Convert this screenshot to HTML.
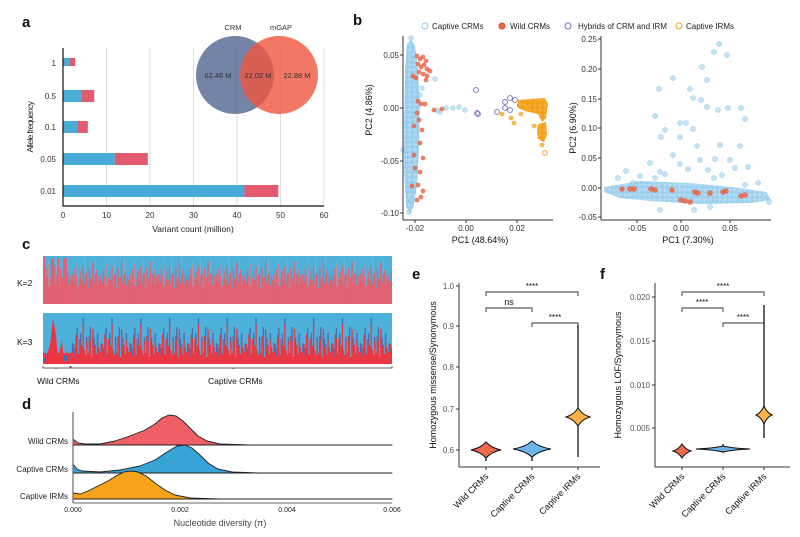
<!DOCTYPE html>
<html><head><meta charset="utf-8"><style>
html,body{margin:0;padding:0;background:#fff;width:800px;height:537px;overflow:hidden}
svg{display:block;font-family:"Liberation Sans",Arial,sans-serif}
.b{fill:#9ccfee;stroke:#6fbbe3;stroke-width:.6;opacity:.6}
.r{fill:#e8603f;opacity:.8}
.h{fill:none;stroke:#7366b3;stroke-width:.9}
.o{fill:#f7a520;opacity:.8}
</style></head><body>
<svg width="800" height="537" viewBox="0 0 800 537" xmlns="http://www.w3.org/2000/svg">
<defs>
<pattern id="dots" x="0" y="0" width="5" height="5" patternUnits="userSpaceOnUse">
<rect width="5" height="5" fill="#b3dbf2"/>
<circle cx="1.5" cy="1.5" r="2" fill="#92caec" stroke="#6fbbe3" stroke-width=".5"/>
<circle cx="4" cy="4" r="2" fill="#a0d2ef" stroke="#6fbbe3" stroke-width=".5"/>
</pattern>
<pattern id="odots" x="0" y="0" width="5" height="5" patternUnits="userSpaceOnUse">
<rect width="5" height="5" fill="#f8b03a"/>
<circle cx="2.5" cy="2.5" r="2" fill="#f5a01a" stroke="#ef9a10" stroke-width=".5"/>
</pattern>
<pattern id="k2" x="43" y="256" width="28.8" height="48" patternUnits="userSpaceOnUse">
<rect width="28.8" height="48" fill="#4db1dc"/>
<g fill="#e5606f">
<rect x="0" y="18" width="1.3" height="30"/><rect x="1.2" y="26" width="1.3" height="22"/><rect x="2.4" y="13" width="1.3" height="35"/><rect x="3.6" y="20" width="1.3" height="28"/><rect x="4.8" y="8" width="1.3" height="40"/><rect x="6" y="30" width="1.3" height="18"/><rect x="7.2" y="22" width="1.3" height="26"/><rect x="8.4" y="15" width="1.3" height="33"/><rect x="9.6" y="24" width="1.3" height="24"/><rect x="10.8" y="10" width="1.3" height="38"/><rect x="12" y="28" width="1.3" height="20"/><rect x="13.2" y="19" width="1.3" height="29"/><rect x="14.4" y="17" width="1.3" height="31"/><rect x="15.6" y="32" width="1.3" height="16"/><rect x="16.8" y="12" width="1.3" height="36"/><rect x="18" y="23" width="1.3" height="25"/><rect x="19.2" y="21" width="1.3" height="27"/><rect x="20.4" y="6" width="1.3" height="42"/><rect x="21.6" y="27" width="1.3" height="21"/><rect x="22.8" y="18" width="1.3" height="30"/><rect x="24" y="14" width="1.3" height="34"/><rect x="25.2" y="29" width="1.3" height="19"/><rect x="26.4" y="20" width="1.3" height="28"/><rect x="27.6" y="24" width="1.3" height="24"/>
</g>
<g fill="#a7b4c4" opacity=".6"><rect x="5" y="5" width=".8" height="25"/><rect x="13" y="3" width=".8" height="16"/><rect x="23.4" y="2" width=".8" height="16"/></g>
</pattern>
<pattern id="k3" x="43" y="313" width="28.8" height="51" patternUnits="userSpaceOnUse">
<rect width="28.8" height="51" fill="#4db1dc"/>
<g fill="#3d6fb5">
<rect x="0" y="30" width="1.3" height="10"/><rect x="2.4" y="35" width="1.3" height="8"/><rect x="4.8" y="15" width="1.3" height="10"/><rect x="8.4" y="20" width="1.3" height="12"/><rect x="10.8" y="5" width="1.3" height="9"/><rect x="14.4" y="24" width="1.3" height="10"/><rect x="18" y="14" width="1.3" height="14"/><rect x="21.6" y="25" width="1.3" height="10"/><rect x="25.2" y="20" width="1.3" height="12"/>
</g>
<g fill="#ee3440">
<rect x="0" y="39" width="1.3" height="12"/><rect x="1.2" y="31" width="1.3" height="20"/><rect x="2.4" y="43" width="1.3" height="8"/><rect x="3.6" y="21" width="1.3" height="30"/><rect x="4.8" y="25" width="1.3" height="26"/><rect x="6" y="41" width="1.3" height="10"/><rect x="7.2" y="26" width="1.3" height="25"/><rect x="8.4" y="32" width="1.3" height="19"/><rect x="9.6" y="33" width="1.3" height="18"/><rect x="10.8" y="11" width="1.3" height="40"/><rect x="12" y="37" width="1.3" height="14"/><rect x="13.2" y="42" width="1.3" height="9"/><rect x="14.4" y="29" width="1.3" height="22"/><rect x="15.6" y="40" width="1.3" height="11"/><rect x="16.8" y="23" width="1.3" height="28"/><rect x="18" y="28" width="1.3" height="23"/><rect x="19.2" y="44" width="1.3" height="7"/><rect x="20.4" y="16" width="1.3" height="35"/><rect x="21.6" y="34" width="1.3" height="17"/><rect x="22.8" y="32" width="1.3" height="19"/><rect x="24" y="41" width="1.3" height="10"/><rect x="25.2" y="27" width="1.3" height="24"/><rect x="26.4" y="34" width="1.3" height="17"/><rect x="27.6" y="39" width="1.3" height="12"/>
</g>
</pattern>
</defs>
<rect width="800" height="537" fill="#fff"/>
<g font-weight="bold" font-size="15" fill="#111">
<text x="22" y="27">a</text><text x="353" y="25">b</text><text x="22" y="249">c</text><text x="22" y="409">d</text><text x="412" y="279">e</text><text x="600" y="279">f</text>
</g>
<!-- panel a -->
<g font-size="8" fill="#333">
<g stroke="#ddd" stroke-width="1">
<line x1="106.5" y1="48" x2="106.5" y2="206"/><line x1="150" y1="48" x2="150" y2="206"/><line x1="193.5" y1="48" x2="193.5" y2="206"/><line x1="237" y1="48" x2="237" y2="206"/><line x1="280.5" y1="48" x2="280.5" y2="206"/><line x1="324" y1="48" x2="324" y2="206"/>
</g>
<g fill="#48acd6"><rect x="63" y="58" width="7" height="8"/><rect x="63" y="90" width="18.3" height="12"/><rect x="63" y="121" width="14.4" height="12"/><rect x="63" y="153" width="51.8" height="12"/><rect x="63" y="185" width="181.4" height="12"/></g>
<g fill="#e25a6e"><rect x="70" y="58" width="5.2" height="8"/><rect x="81.3" y="90" width="13" height="12"/><rect x="77.4" y="121" width="10.4" height="12"/><rect x="114.8" y="153" width="33" height="12"/><rect x="244.4" y="185" width="33.9" height="12"/></g>
<circle cx="235" cy="75" r="39" fill="#5b6f97" opacity="0.85"/>
<circle cx="279" cy="75" r="39" fill="#f0553f" opacity="0.8"/>
<text x="233" y="30" text-anchor="middle" font-size="7.5">CRM</text>
<text x="281" y="30" text-anchor="middle" font-size="7.5">mGAP</text>
<text x="218" y="78" text-anchor="middle" font-size="7.5">62.46 M</text>
<text x="258" y="78" text-anchor="middle" font-size="7.5">22.02 M</text>
<text x="297" y="78" text-anchor="middle" font-size="7.5">22.88 M</text>
<line x1="63" y1="48" x2="63" y2="206.5" stroke="#111" stroke-width="1.2"/>
<line x1="63" y1="206" x2="324" y2="206" stroke="#111" stroke-width="1.2"/>
<g text-anchor="middle"><text x="63" y="218">0</text><text x="106.5" y="218">10</text><text x="150" y="218">20</text><text x="193.5" y="218">30</text><text x="237" y="218">40</text><text x="280.5" y="218">50</text><text x="324" y="218">60</text></g>
<g text-anchor="end"><text x="56" y="66">1</text><text x="56" y="99">0.5</text><text x="56" y="130">0.1</text><text x="56" y="162">0.05</text><text x="56" y="194">0.01</text></g>
<text x="193" y="232" text-anchor="middle" font-size="8.5" fill="#222">Variant count (million)</text>
<text transform="translate(33,127) rotate(-90)" text-anchor="middle" font-size="8.5" fill="#222" letter-spacing="-0.6">Allele frequency</text>
</g>
<!-- panel b legend -->
<g font-size="8" fill="#222">
<circle cx="425" cy="26" r="3" fill="none" stroke="#8fc9ea"/><text x="432" y="29">Captive CRMs</text>
<circle cx="502" cy="26" r="3" fill="#e8684a" stroke="#d94a2a"/><text x="510" y="29">Wild CRMs</text>
<circle cx="568" cy="26" r="3" fill="none" stroke="#7c72b8"/><text x="578" y="29">Hybrids of CRM and IRM</text>
<circle cx="679" cy="26" r="3" fill="none" stroke="#f5a623"/><text x="686" y="29">Captive IRMs</text>
</g>
<!-- left PCA -->
<path d="M407 44 L411 40 L415 45 L418 70 L420 110 L419 150 L417 185 L414 205 L410 214 L406 206 L404 170 L404 120 L405 70 Z" fill="url(#dots)" opacity=".9"/>
<g>
<circle class="b" cx="411" cy="38" r="2.4"/><circle class="b" cx="409" cy="212" r="2.4"/><circle class="b" cx="411" cy="201" r="2.4"/><circle class="b" cx="413" cy="190" r="2.4"/><circle class="b" cx="420" cy="95" r="2.4"/><circle class="b" cx="422" cy="88" r="2.4"/><circle class="b" cx="403" cy="150" r="2.4"/>
<circle class="b" cx="435" cy="79" r="2.4"/><circle class="b" cx="437" cy="110" r="2.4"/><circle class="b" cx="440" cy="112" r="2.4"/><circle class="b" cx="446" cy="108" r="2.4"/><circle class="b" cx="453" cy="108" r="2.4"/><circle class="b" cx="459" cy="107" r="2.4"/><circle class="b" cx="465" cy="110" r="2.4"/>
<circle class="r" cx="417" cy="56" r="2.4"/><circle class="r" cx="420" cy="59" r="2.4"/><circle class="r" cx="423" cy="57" r="2.4"/><circle class="r" cx="426" cy="61" r="2.4"/><circle class="r" cx="418" cy="64" r="2.4"/><circle class="r" cx="421" cy="67" r="2.4"/><circle class="r" cx="424" cy="65" r="2.4"/><circle class="r" cx="427" cy="69" r="2.4"/><circle class="r" cx="419" cy="72" r="2.4"/><circle class="r" cx="423" cy="74" r="2.4"/><circle class="r" cx="427" cy="76" r="2.4"/><circle class="r" cx="413" cy="76" r="2.4"/><circle class="r" cx="416" cy="78" r="2.4"/><circle class="r" cx="430" cy="71" r="2.4"/><circle class="r" cx="426" cy="80" r="2.4"/>
<circle class="r" cx="418" cy="101" r="2.4"/><circle class="r" cx="421" cy="104" r="2.4"/><circle class="r" cx="425" cy="104" r="2.4"/><circle class="r" cx="434" cy="110" r="2.4"/><circle class="r" cx="442" cy="109" r="2.4"/><circle class="r" cx="417" cy="113" r="2.4"/><circle class="r" cx="419" cy="120" r="2.4"/><circle class="r" cx="422" cy="130" r="2.4"/><circle class="r" cx="414" cy="126" r="2.4"/><circle class="r" cx="420" cy="143" r="2.4"/><circle class="r" cx="414" cy="155" r="2.4"/><circle class="r" cx="423" cy="158" r="2.4"/><circle class="r" cx="415" cy="168" r="2.4"/><circle class="r" cx="420" cy="172" r="2.4"/><circle class="r" cx="418" cy="185" r="2.4"/><circle class="r" cx="423" cy="191" r="2.4"/><circle class="r" cx="421" cy="197" r="2.4"/><circle class="r" cx="417" cy="200" r="2.4"/><circle class="r" cx="412" cy="186" r="2.4"/>
<circle class="h" cx="476" cy="90" r="2.4"/><circle class="h" cx="477" cy="113" r="2.4"/><circle class="h" cx="478" cy="114" r="2.4"/><circle class="h" cx="497" cy="112" r="2.4"/><circle class="h" cx="505" cy="102" r="2.4"/><circle class="h" cx="505" cy="108" r="2.4"/><circle class="h" cx="510" cy="110" r="2.4"/><circle class="h" cx="515" cy="100" r="2.4"/><circle class="h" cx="520" cy="105" r="2.4"/><circle class="h" cx="510" cy="98" r="2.4"/>
</g>
<path d="M518 100 L530 99 L545 98 L548 104 L546 118 L542 122 L538 114 L525 111 L518 108 Z" fill="url(#odots)"/>
<path d="M538 124 L546 122 L547 135 L544 142 L538 139 L537 130 Z" fill="url(#odots)"/>
<g><circle class="o" cx="502" cy="114" r="2.4"/><circle class="o" cx="511" cy="118" r="2.4"/><circle class="o" cx="521" cy="114" r="2.4"/><circle class="o" cx="514" cy="123" r="2.4"/><circle class="o" cx="534" cy="126" r="2.4"/><circle class="o" cx="542" cy="145" r="2.4"/><circle class="o" cx="527" cy="109" r="2.4"/><circle cx="545" cy="153" r="2.4" fill="none" stroke="#f5a623"/></g>
<!-- right PCA -->
<path d="M604 187 L640 181 L690 183 L740 188 L766 192 L771 200 L750 203 L700 204 L650 201 L620 198 L604 192 Z" fill="url(#dots)" opacity=".85"/>
<g>
<circle class="b" cx="719" cy="44" r="2.6"/><circle class="b" cx="714" cy="52" r="2.6"/><circle class="b" cx="727" cy="55" r="2.6"/><circle class="b" cx="702" cy="67" r="2.6"/><circle class="b" cx="673" cy="78" r="2.6"/><circle class="b" cx="707" cy="80" r="2.6"/><circle class="b" cx="690" cy="89" r="2.6"/><circle class="b" cx="659" cy="89" r="2.6"/><circle class="b" cx="655" cy="116" r="2.6"/><circle class="b" cx="701" cy="100" r="2.6"/><circle class="b" cx="680" cy="123" r="2.6"/><circle class="b" cx="707" cy="107" r="2.6"/><circle class="b" cx="728" cy="108" r="2.6"/><circle class="b" cx="718" cy="110" r="2.6"/><circle class="b" cx="741" cy="108" r="2.6"/><circle class="b" cx="745" cy="119" r="2.6"/><circle class="b" cx="693" cy="98" r="2.6"/><circle class="b" cx="686" cy="123" r="2.6"/><circle class="b" cx="665" cy="130" r="2.6"/><circle class="b" cx="661" cy="137" r="2.6"/><circle class="b" cx="693" cy="129" r="2.6"/><circle class="b" cx="673" cy="155" r="2.6"/><circle class="b" cx="697" cy="146" r="2.6"/><circle class="b" cx="680" cy="137" r="2.6"/><circle class="b" cx="715" cy="159" r="2.6"/><circle class="b" cx="720" cy="145" r="2.6"/><circle class="b" cx="714" cy="178" r="2.6"/><circle class="b" cx="735" cy="168" r="2.6"/><circle class="b" cx="740" cy="146" r="2.6"/><circle class="b" cx="680" cy="164" r="2.6"/><circle class="b" cx="688" cy="169" r="2.6"/><circle class="b" cx="660" cy="172" r="2.6"/><circle class="b" cx="650" cy="163" r="2.6"/><circle class="b" cx="633" cy="183" r="2.6"/><circle class="b" cx="640" cy="176" r="2.6"/><circle class="b" cx="626" cy="171" r="2.6"/><circle class="b" cx="655" cy="178" r="2.6"/><circle class="b" cx="665" cy="174" r="2.6"/><circle class="b" cx="708" cy="170" r="2.6"/><circle class="b" cx="722" cy="175" r="2.6"/><circle class="b" cx="730" cy="160" r="2.6"/><circle class="b" cx="748" cy="167" r="2.6"/><circle class="b" cx="618" cy="178" r="2.6"/><circle class="b" cx="700" cy="160" r="2.6"/><circle class="b" cx="745" cy="185" r="2.6"/><circle class="b" cx="758" cy="183" r="2.6"/><circle class="b" cx="769" cy="202" r="2.6"/><circle class="b" cx="660" cy="210" r="2.6"/><circle class="b" cx="694" cy="210" r="2.6"/><circle class="b" cx="710" cy="207" r="2.6"/>
<circle class="r" cx="622" cy="189" r="2.8"/><circle class="r" cx="630" cy="189" r="2.8"/><circle class="r" cx="634" cy="189" r="2.8"/><circle class="r" cx="651" cy="189" r="2.8"/><circle class="r" cx="655" cy="190" r="2.8"/><circle class="r" cx="672" cy="190" r="2.8"/><circle class="r" cx="681" cy="200" r="2.8"/><circle class="r" cx="685" cy="201" r="2.8"/><circle class="r" cx="690" cy="202" r="2.8"/><circle class="r" cx="695" cy="192" r="2.8"/><circle class="r" cx="698" cy="193" r="2.8"/><circle class="r" cx="710" cy="193" r="2.8"/><circle class="r" cx="723" cy="192" r="2.8"/><circle class="r" cx="726" cy="191" r="2.8"/><circle class="r" cx="741" cy="196" r="2.8"/><circle class="r" cx="745" cy="195" r="2.8"/>
</g>
<g font-size="8" fill="#333">
<line x1="403" y1="36" x2="403" y2="220" stroke="#333"/><line x1="403" y1="220" x2="553" y2="220" stroke="#333"/>
<g text-anchor="end"><text x="399" y="58">0.05</text><text x="399" y="111">0.00</text><text x="399" y="164">-0.05</text><text x="399" y="216">-0.10</text></g>
<g stroke="#333"><line x1="400" y1="55" x2="403" y2="55"/><line x1="400" y1="108" x2="403" y2="108"/><line x1="400" y1="161" x2="403" y2="161"/><line x1="400" y1="213" x2="403" y2="213"/>
<line x1="415" y1="220" x2="415" y2="223"/><line x1="466" y1="220" x2="466" y2="223"/><line x1="517" y1="220" x2="517" y2="223"/>
<line x1="598" y1="39" x2="601" y2="39"/><line x1="598" y1="69" x2="601" y2="69"/><line x1="598" y1="99" x2="601" y2="99"/><line x1="598" y1="128" x2="601" y2="128"/><line x1="598" y1="158" x2="601" y2="158"/><line x1="598" y1="188" x2="601" y2="188"/><line x1="598" y1="217" x2="601" y2="217"/>
<line x1="637" y1="220" x2="637" y2="223"/><line x1="681" y1="220" x2="681" y2="223"/><line x1="730" y1="220" x2="730" y2="223"/></g>
<g text-anchor="middle"><text x="415" y="231">-0.02</text><text x="466" y="231">0.00</text><text x="517" y="231">0.02</text></g>
<text x="480" y="243" text-anchor="middle" font-size="9" fill="#111">PC1 (48.64%)</text>
<text transform="translate(372,110) rotate(-90)" text-anchor="middle" font-size="9" fill="#111">PC2 (4.86%)</text>
<line x1="601" y1="36" x2="601" y2="220" stroke="#333"/><line x1="601" y1="220" x2="771" y2="220" stroke="#333"/>
<g text-anchor="end"><text x="597" y="42">0.25</text><text x="597" y="72">0.20</text><text x="597" y="102">0.15</text><text x="597" y="131">0.10</text><text x="597" y="161">0.05</text><text x="597" y="191">0.00</text><text x="597" y="220">-0.05</text></g>
<g text-anchor="middle"><text x="637" y="231">-0.05</text><text x="681" y="231">0.00</text><text x="730" y="231">0.05</text></g>
<text x="688" y="243" text-anchor="middle" font-size="9" fill="#111">PC1 (7.30%)</text>
<text transform="translate(576,128) rotate(-90)" text-anchor="middle" font-size="9" fill="#111">PC2 (6.90%)</text>
</g>
<!-- panel c -->
<rect x="43" y="256" width="349" height="48" fill="url(#k2)"/>
<g fill="#e5606f"><rect x="43" y="257" width="2" height="47"/><rect x="51" y="258" width="3" height="46"/><rect x="57" y="258" width="2" height="46"/><rect x="63" y="258" width="4" height="46"/></g>
<rect x="43" y="313" width="349" height="51" fill="url(#k3)"/>
<g fill="#4db1dc"><rect x="43" y="313" width="28" height="40"/></g>
<g fill="#ee3440"><path d="M43 364 V352 L46 357 L50 345 L53 318 L56 335 L58 360 L62 340 L64 362 L67 350 L70 364 Z"/></g>
<g fill="#3d6fb5"><rect x="43" y="358" width="3" height="4"/><rect x="64" y="355" width="4" height="6"/></g>
<g font-size="8.5" fill="#111">
<text x="17" y="286">K=2</text><text x="17" y="345">K=3</text>
<path d="M43 366 v2 h27 v-2 M56 368 v1 M71 366 v2 h321 v-2 M233 368 v1" fill="none" stroke="#333" stroke-width="0.8"/>
<text x="37" y="384">Wild CRMs</text><text x="208" y="384">Captive CRMs</text>
</g>
<!-- panel d -->
<g stroke="#222" stroke-width=".9" stroke-linejoin="round">
<path d="M73 445 L73 439 L78 443 L85 444 L100 444 L115 441 L130 436 L145 430 L155 424 L162 418 L169 415 L176 416 L183 421 L190 428 L198 436 L207 441 L220 444 L250 445 L392 445 Z" fill="#ee5f66"/>
<path d="M73 473 L73 464 L77 469 L82 471 L100 472 L120 470 L140 466 L155 460 L167 452 L177 446 L185 445 L192 448 L200 455 L208 463 L218 469 L232 472 L260 473 L392 473 Z" fill="#36a4d6"/>
<path d="M73 499 L73 493 L80 494 L88 491 L98 486 L108 481 L116 476 L124 472 L131 471 L138 472 L146 476 L155 483 L165 490 L175 495 L190 498 L220 499 L392 499 Z" fill="#f6a31b"/>
</g>
<g font-size="8" fill="#222">
<text x="68" y="444" text-anchor="end">Wild CRMs</text><text x="68" y="472" text-anchor="end">Captive CRMs</text><text x="68" y="499" text-anchor="end">Captive IRMs</text>
<line x1="73" y1="412" x2="73" y2="503" stroke="#666" stroke-width="1.2"/>
<line x1="73" y1="503" x2="392" y2="503" stroke="#666"/>
<g text-anchor="middle" font-size="7"><text x="73" y="512">0.000</text><text x="180" y="512">0.002</text><text x="287" y="512">0.004</text><text x="392" y="512">0.006</text></g>
<text x="220" y="526" text-anchor="middle" font-size="9" fill="#444">Nucleotide diversity (π)</text>
</g>
<!-- panel e / f -->
<g font-size="8" fill="#555">
<g stroke="#333" fill="none">
<line x1="459" y1="283" x2="459" y2="467"/><line x1="459" y1="467" x2="600" y2="467"/>
<line x1="456" y1="286" x2="459" y2="286"/><line x1="456" y1="326" x2="459" y2="326"/><line x1="456" y1="367" x2="459" y2="367"/><line x1="456" y1="409" x2="459" y2="409"/><line x1="456" y1="450" x2="459" y2="450"/>
<line x1="486" y1="467" x2="486" y2="470"/><line x1="532" y1="467" x2="532" y2="470"/><line x1="578" y1="467" x2="578" y2="470"/>
<path d="M486 296 V292 H578 V296 M486 312 V308 H532 V312 M532 327 V323 H578 V327" stroke-width=".9"/>
<line x1="655" y1="283" x2="655" y2="467"/><line x1="655" y1="467" x2="790" y2="467"/>
<line x1="652" y1="297" x2="655" y2="297"/><line x1="652" y1="341" x2="655" y2="341"/><line x1="652" y1="385" x2="655" y2="385"/><line x1="652" y1="428" x2="655" y2="428"/>
<line x1="682" y1="467" x2="682" y2="470"/><line x1="723" y1="467" x2="723" y2="470"/><line x1="764" y1="467" x2="764" y2="470"/>
<path d="M682 296 V292 H764 V296 M682 312 V308 H723 V312 M723 327 V323 H764 V327" stroke-width=".9"/>
</g>
<g text-anchor="end"><text x="454" y="289">1.0</text><text x="454" y="329">0.9</text><text x="454" y="370">0.8</text><text x="454" y="412">0.7</text><text x="454" y="453">0.6</text>
<text x="650" y="300">0.020</text><text x="650" y="344">0.015</text><text x="650" y="388">0.010</text><text x="650" y="431">0.005</text></g>
<g text-anchor="middle" fill="#111"><text x="532" y="289">****</text><text x="509" y="305" font-size="9">ns</text><text x="555" y="320">****</text>
<text x="723" y="289">****</text><text x="702" y="305">****</text><text x="743" y="320">****</text></g>
<g stroke="#111" stroke-width="1.3"><line x1="486" y1="442" x2="486" y2="461"/><line x1="532" y1="441" x2="532" y2="461"/><line x1="578" y1="325" x2="578" y2="457"/>
<line x1="682" y1="446" x2="682" y2="457"/><line x1="723" y1="444" x2="723" y2="453"/><line x1="764" y1="305" x2="764" y2="438"/></g>
<g stroke="#111" stroke-width="1">
<path d="M486 442 Q491.3 448 501 450 Q491.3 452 486 458 Q480.7 452 471 450 Q480.7 448 486 442Z" fill="#ee6a4f"/>
<path d="M532 441 Q538.7 447 551 449 Q538.7 451 532 457 Q525.3 451 513 449 Q525.3 447 532 441Z" fill="#6cb3e6"/>
<path d="M578 408 Q582.2 414.8 590 417 Q582.2 419.2 578 426 Q573.8 419.2 566 417 Q573.8 414.8 578 408Z" fill="#fbb34a"/>
<path d="M682 444 Q685.2 449.2 691 451 Q685.2 452.8 682 458 Q678.8 452.8 673 451 Q678.8 449.2 682 444Z" fill="#ee6a4f"/>
<path d="M723 446 Q732.5 448.2 750 449 Q732.5 449.8 723 452 Q713.5 449.8 696 449 Q713.5 448.2 723 446Z" fill="#6cb3e6"/>
<path d="M764 406 Q766.8 412.8 772 415 Q766.8 417.2 764 424 Q761.2 417.2 756 415 Q761.2 412.8 764 406Z" fill="#fbb34a"/>
</g>
<g font-size="9" fill="#111" text-anchor="end">
<text transform="translate(489,477) rotate(-45)">Wild CRMs</text><text transform="translate(535,477) rotate(-45)">Captive CRMs</text><text transform="translate(581,477) rotate(-45)">Captive IRMs</text>
<text transform="translate(685,477) rotate(-45)">Wild CRMs</text><text transform="translate(726,477) rotate(-45)">Captive CRMs</text><text transform="translate(767,477) rotate(-45)">Captive IRMs</text>
</g>
<text transform="translate(436,375) rotate(-90)" text-anchor="middle" font-size="9" fill="#111">Homozygous missense/Synonymous</text>
<text transform="translate(621,375) rotate(-90)" text-anchor="middle" font-size="9" fill="#111">Homozygous LOF/Synonymous</text>
</g>
</svg>
</body></html>
